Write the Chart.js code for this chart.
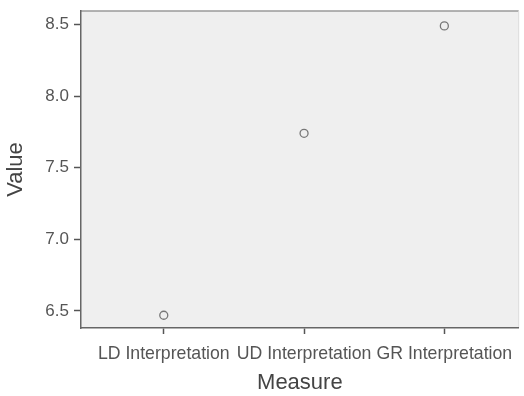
<!DOCTYPE html>
<html>
<head>
<meta charset="utf-8">
<script src="https://cdn.jsdelivr.net/npm/chart.js@4/dist/chart.umd.min.js"></script>
<style>
  html, body { margin: 0; padding: 0; background: #fff; }
  canvas { display: block; }
</style>
</head>
<body>
<canvas id="plot" width="524" height="396"></canvas>
<script>
// data
const measures = ["LD Interpretation", "UD Interpretation", "GR Interpretation"];
const values = [6.47, 7.74, 8.49];
const yTicks = [6.5, 7.0, 7.5, 8.0, 8.5];

// grey panel behind the points + light top/right border
const panelBg = {
  id: "panelBg",
  beforeDraw(chart) {
    const { ctx, chartArea: a } = chart;
    ctx.save();
    ctx.fillStyle = "#efefef";
    ctx.fillRect(a.left, a.top, a.right - a.left, a.bottom - a.top);
    ctx.strokeStyle = "#9a9a9a";
    ctx.lineWidth = 1.5;
    ctx.beginPath();
    ctx.moveTo(a.left, a.top);
    ctx.lineTo(a.right, a.top);
    ctx.stroke();
    ctx.strokeStyle = "#dcdcdc";
    ctx.lineWidth = 1;
    ctx.beginPath();
    ctx.moveTo(a.right, a.top);
    ctx.lineTo(a.right, a.bottom);
    ctx.stroke();
    ctx.restore();
  }
};

document.addEventListener("DOMContentLoaded", () => {
  const ctx = document.getElementById("plot").getContext("2d");

  new Chart(ctx, {
    type: "scatter",
    data: {
      datasets: [
        {
          data: values.map((v, i) => ({ x: i + 1, y: v })),
          pointRadius: 4,
          pointBorderWidth: 1.3,
          pointBorderColor: "#777",
          pointBackgroundColor: "rgba(0,0,0,0)",
        },
      ],
    },
    options: {
      responsive: false,
      animation: false,
      layout: { padding: { left: 0, top: 11, right: 5, bottom: 0 } },
      plugins: {
        legend: { display: false },
        tooltip: { enabled: false },
      },
      scales: {
        x: {
          type: "linear",
          min: 0.41,
          max: 3.53,
          afterBuildTicks: (s) => { s.ticks = measures.map((m, i) => ({ value: i + 1 })); },
          afterFit: (s) => { s.height = 68; s.paddingLeft = 0; s.paddingRight = 0; },
          ticks: {
            autoSkip: false,
            maxRotation: 0,
            padding: 9,
            color: "#555",
            font: { family: "Liberation Sans", size: 17.7 },
            callback: (v) => measures[v - 1],
          },
          grid: { drawOnChartArea: false, tickLength: 6, tickColor: "#555", tickWidth: 1.5 },
          border: { color: "#666", width: 1.5 },
          title: {
            display: true,
            text: "Measure",
            color: "#444",
            padding: { top: 0, bottom: 0 },
            font: { family: "Liberation Sans", size: 22 },
          },
        },
        y: {
          min: 6.381,
          max: 8.594,
          afterBuildTicks: (s) => { s.ticks = yTicks.map((v) => ({ value: v })); },
          afterFit: (s) => { s.width = 81; s.paddingTop = 0; s.paddingBottom = 0; },
          ticks: {
            padding: 5,
            color: "#555",
            font: { family: "Liberation Sans", size: 17 },
            callback: (v) => v.toFixed(1),
          },
          grid: { drawOnChartArea: false, tickLength: 7, tickColor: "#555", tickWidth: 1.5 },
          border: { color: "#666", width: 1.5 },
          title: {
            display: true,
            text: "Value",
            color: "#444",
            padding: { top: 3, bottom: 0 },
            font: { family: "Liberation Sans", size: 22 },
          },
        },
      },
    },
    plugins: [panelBg],
  });
});
</script>
</body>
</html>
